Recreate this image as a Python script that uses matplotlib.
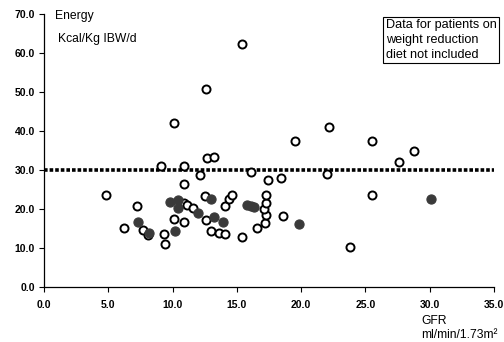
import matplotlib
matplotlib.use("Agg")
import matplotlib.pyplot as plt

plt.rcParams['font.family'] = ['Liberation Sans', 'DejaVu Sans']

# GFR (ml/min/1.73m2) vs energy intake (Kcal/Kg IBW/d)
open_gfr = [4.8, 6.2, 7.2, 7.7, 8.1, 9.3, 9.4, 9.1, 10.1, 10.1, 10.9, 10.9,
            11.1, 10.9, 10.9, 11.6, 12.1, 12.5, 12.6, 12.6, 12.7, 13.2, 13.0,
            13.6, 14.1, 14.1, 14.4, 14.6, 15.4, 15.4, 16.1, 16.6, 17.2, 17.3,
            17.1, 17.3, 17.3, 17.4, 18.4, 18.6, 19.5, 22.0, 22.2, 23.8, 25.5,
            25.5, 27.6, 28.8]
open_energy = [23.7, 15.2, 20.8, 14.7, 13.4, 13.7, 11.1, 31.1, 42.1, 17.5,
               26.5, 21.6, 21.1, 16.7, 31.1, 20.3, 28.8, 23.4, 17.3, 50.8,
               33.2, 33.4, 14.4, 13.9, 13.7, 20.8, 22.6, 23.7, 12.9, 62.4,
               29.6, 15.2, 16.5, 18.5, 20.1, 21.6, 23.7, 27.5, 28.0, 18.3,
               37.5, 29.1, 41.1, 10.3, 23.7, 37.5, 32.1, 34.9]

filled_gfr = [7.3, 8.2, 9.8, 10.4, 10.4, 10.2, 12.0, 13.0, 13.2, 13.9, 15.8,
              16.1, 16.3, 19.8, 30.1]
filled_energy = [16.7, 13.9, 21.9, 22.4, 20.3, 14.4, 19.0, 22.6, 18.0, 16.7,
                 21.1, 20.8, 20.6, 16.2, 22.6]

reference_level = 30.0
x_ticks = [0, 5, 10, 15, 20, 25, 30, 35]
y_ticks = [0, 10, 20, 30, 40, 50, 60, 70]

fig = plt.figure(figsize=(5.04, 3.42), dpi=100)
ax = fig.add_axes([0.0873, 0.16, 0.893, 0.798])

ax.plot([0, 35], [reference_level, reference_level], color='black',
        linewidth=2.6, linestyle=(0, (1.0, 0.55)), zorder=1,
        solid_capstyle='butt', dash_capstyle='butt')

ax.plot(open_gfr, open_energy, linestyle='none', marker='o', markersize=5.8,
        markerfacecolor='white', markeredgecolor='black',
        markeredgewidth=1.4, zorder=3)
ax.plot(filled_gfr, filled_energy, linestyle='none', marker='o',
        markersize=6.6, markerfacecolor='#3a3a3a', markeredgecolor='#3a3a3a',
        markeredgewidth=0.8, zorder=3)

ax.set_xlim(0, 35)
ax.set_ylim(0, 70)
ax.set_xticks(x_ticks)
ax.set_yticks(y_ticks)
ax.set_xticklabels([f"{v:.1f}" for v in x_ticks], fontsize=7.5,
                   fontweight='bold')
ax.set_yticklabels([f"{v:.1f}" for v in y_ticks], fontsize=7.5,
                   fontweight='bold')
ax.tick_params(axis='both', direction='out', length=3.5, width=0.8,
               color='black', pad=3)
ax.tick_params(axis='x', pad=6)

for side in ('top', 'right'):
    ax.spines[side].set_visible(False)
for side in ('left', 'bottom'):
    ax.spines[side].set_linewidth(0.9)

label_size = 8.7
fig.text(55 / 504, 1 - 16 / 342, "Energy", fontsize=label_size,
         va='center', ha='left')
fig.text(58 / 504, 1 - 39 / 342, "Kcal/Kg IBW/d", fontsize=label_size,
         va='center', ha='left')

fig.text(386 / 504, 1 - 40 / 342,
         "Data for patients on\nweight reduction\ndiet not included",
         fontsize=9.1, va='center', ha='left', linespacing=1.3,
         bbox=dict(boxstyle='square,pad=0.2', facecolor='white',
                   edgecolor='black', linewidth=0.8))

fig.text(421 / 504, 1 - 321 / 342, "GFR", fontsize=label_size,
         va='center', ha='left')
fig.text(421 / 504, 1 - 335 / 342, "ml/min/1.73m²", fontsize=label_size,
         va='center', ha='left')

fig.savefig("out.png", dpi=100, facecolor='white')
